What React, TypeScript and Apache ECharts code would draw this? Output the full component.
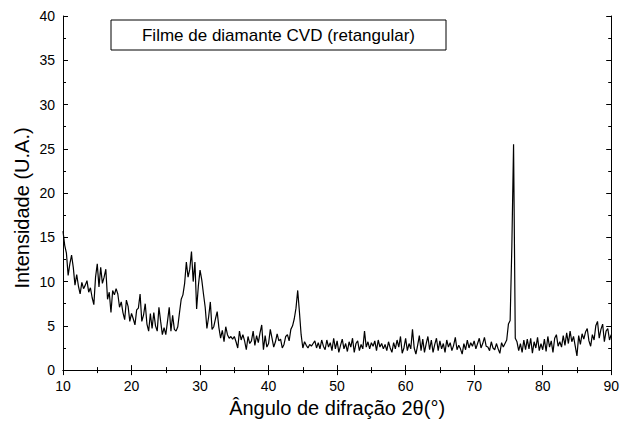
import React, { useEffect, useRef } from "react";
import * as echarts from "echarts";

const START_ANGLE = 10;
const STEP = 0.25;

// Intensity values (U.A.) every 0.25° from 10° to 90°, grouped by degree
const deg10_19 = [
  15.7, 14.1, 13.2, 10.7,
  12.0, 13.0, 11.6, 9.6,
  10.8, 9.5, 8.6, 9.9,
  9.2, 9.6, 10.1, 8.8,
  9.3, 8.2, 7.4, 10.5,
  12.0, 9.4, 11.6, 9.8,
  10.5, 11.4, 8.0, 8.8,
  6.5, 9.0, 8.5, 9.2,
  8.6, 7.1, 7.7, 6.5,
  5.7, 7.9, 7.2, 5.5,
];
const deg20_29 = [
  6.4, 5.8, 5.1, 6.8,
  7.0, 8.6, 5.5, 6.2,
  7.5, 5.2, 4.4, 6.4,
  4.7, 6.5, 5.0, 4.4,
  7.1, 5.5, 4.0, 4.8,
  4.0, 5.5, 7.1, 4.4,
  6.2, 4.6, 4.4, 4.9,
  6.5, 8.0, 8.5, 9.8,
  12.2, 10.5, 11.4, 13.4,
  10.0, 12.2, 6.9, 9.5,
];
const deg30_39 = [
  11.3, 10.2, 8.6, 7.1,
  4.7, 6.0, 7.7, 4.6,
  4.9, 5.8, 6.6, 4.8,
  3.6, 4.5, 3.2, 4.9,
  4.0, 3.6, 3.8, 3.5,
  3.8, 3.2, 2.5, 4.4,
  3.4, 4.0, 3.3, 2.3,
  3.8, 3.0, 3.3, 4.4,
  2.8, 3.9, 3.1, 4.2,
  5.1, 2.3, 3.9, 2.6,
];
const deg40_49 = [
  3.0, 4.6, 3.6, 2.6,
  3.2, 4.1, 3.3, 3.5,
  2.5, 2.9, 3.8, 4.0,
  3.3, 4.6, 5.0, 5.8,
  7.0, 9.0, 6.6, 4.0,
  2.5, 3.2, 2.8, 2.5,
  2.9, 2.7, 3.0, 3.3,
  2.5, 3.1, 2.4, 3.4,
  2.7, 2.3, 3.4, 2.6,
  3.1, 2.2, 3.6, 2.4,
];
const deg50_59 = [
  3.3, 2.0, 2.8, 3.5,
  2.4, 3.0, 2.1, 3.2,
  2.6, 3.6, 2.0, 3.0,
  3.3, 2.2, 2.9, 2.4,
  4.4, 2.6, 3.2, 2.4,
  3.1, 2.7, 3.3, 2.2,
  3.4, 2.6, 3.0, 2.4,
  2.9, 2.2, 3.2, 2.5,
  2.0, 3.1, 2.4, 3.4,
  2.6, 3.8, 1.9, 2.5,
];
const deg60_69 = [
  3.6, 2.2, 3.0, 2.4,
  4.6, 2.5, 1.8, 2.8,
  3.9, 2.2, 3.5, 2.0,
  3.0, 3.8, 2.3, 3.4,
  2.0, 2.9, 3.6, 2.2,
  3.3, 2.4, 3.0, 2.0,
  3.4, 2.6, 3.1, 2.2,
  2.8, 3.7, 2.3, 2.8,
  2.4, 1.8, 3.0, 2.3,
  3.4, 2.5, 3.1, 2.7,
];
const deg70_79 = [
  3.3, 2.4, 3.0, 3.6,
  2.5, 3.0, 3.7, 2.7,
  2.6, 2.2, 3.2, 2.5,
  2.3, 3.0, 2.4, 1.9,
  3.1, 2.6, 3.0, 3.4,
  5.2, 5.6, 14.0, 25.5,
  3.6, 3.2, 2.2, 3.0,
  2.0, 3.4, 2.3, 3.5,
  2.4, 3.6, 1.9, 3.2,
  2.5, 3.7, 2.2, 3.0,
];
const deg80_90 = [
  2.3, 3.5, 2.1, 3.8,
  2.6, 3.3, 2.0, 3.6,
  4.0, 2.7, 3.2, 2.6,
  3.9, 2.8, 4.2, 3.0,
  4.4, 3.2, 3.8, 2.7,
  1.6, 3.9, 2.9, 4.1,
  3.5, 4.3, 4.7, 3.3,
  2.7, 4.0, 3.4, 5.0,
  5.5, 3.6, 4.6, 5.2,
  3.2, 4.4, 4.7, 3.4,
  4.0,
];

const intensities = [
  ...deg10_19, ...deg20_29, ...deg30_39, ...deg40_49,
  ...deg50_59, ...deg60_69, ...deg70_79, ...deg80_90,
];

const TITLE = "Filme de diamante CVD (retangular)";
const X_NAME = "Ângulo de difração 2θ(°)";
const Y_NAME = "Intensidade (U.A.)";

const FONT = "Liberation Sans, Arial, Helvetica, sans-serif";

export default function App() {
  const ref = useRef<HTMLDivElement>(null);

  useEffect(() => {
    if (!ref.current) return;
    const chart = echarts.init(ref.current, undefined, { renderer: "svg" });
    const data = intensities.map((v, i) => [START_ANGLE + i * STEP, v]);

    const baseAxis = {
      axisLine: { show: true, lineStyle: { color: "#000", width: 1 } },
      axisTick: { show: true, inside: true, length: 5, lineStyle: { color: "#000" } },
      minorTick: { show: true, splitNumber: 2, length: 3, lineStyle: { color: "#000" } },
      splitLine: { show: false },
    };

    chart.setOption({
      animation: false,
      backgroundColor: "#fff",
      grid: { left: 63, right: 8, top: 16, bottom: 49, containLabel: false },
      xAxis: [
        {
          ...baseAxis,
          type: "value",
          min: 10,
          max: 90,
          interval: 10,
          position: "bottom",
          name: X_NAME,
          nameLocation: "middle",
          nameGap: 27,
          nameTextStyle: { fontFamily: FONT, fontSize: 20, color: "#000" },
          axisLabel: { fontFamily: FONT, fontSize: 14, color: "#000", margin: 9 },
        },
        {
          ...baseAxis,
          type: "value",
          min: 10,
          max: 90,
          interval: 10,
          position: "top",
          axisLabel: { show: false },
        },
      ],
      yAxis: [
        {
          ...baseAxis,
          type: "value",
          min: 0,
          max: 40,
          interval: 5,
          position: "left",
          axisLabel: { fontFamily: FONT, fontSize: 14, color: "#000", margin: 8 },
        },
        {
          ...baseAxis,
          type: "value",
          min: 0,
          max: 40,
          interval: 5,
          position: "right",
          axisLabel: { show: false },
        },
      ],
      series: [
        {
          type: "line",
          data,
          xAxisIndex: 0,
          yAxisIndex: 0,
          showSymbol: false,
          symbol: "none",
          lineStyle: { color: "#000", width: 1.2 },
          z: 3,
        },
      ],
      graphic: [
        {
          type: "rect",
          shape: { x: 111, y: 20, width: 335, height: 30 },
          style: { fill: "#fff", stroke: "#000", lineWidth: 1 },
          z: 10,
        },
        {
          type: "text",
          x: 278.5,
          y: 35,
          style: {
            text: TITLE,
            fontFamily: FONT,
            fontSize: 17,
            fill: "#000",
            textAlign: "center",
            textVerticalAlign: "middle",
          },
          z: 11,
        },
        {
          type: "text",
          x: 22,
          y: 208,
          rotation: Math.PI / 2,
          style: {
            text: Y_NAME,
            fontFamily: FONT,
            fontSize: 20,
            fill: "#000",
            textAlign: "center",
            textVerticalAlign: "middle",
          },
          z: 11,
        },
      ],
    });

    return () => chart.dispose();
  }, []);

  return (
    <div
      ref={ref}
      style={{ position: "fixed", left: 0, top: 0, width: 622, height: 423 }}
    />
  );
}
